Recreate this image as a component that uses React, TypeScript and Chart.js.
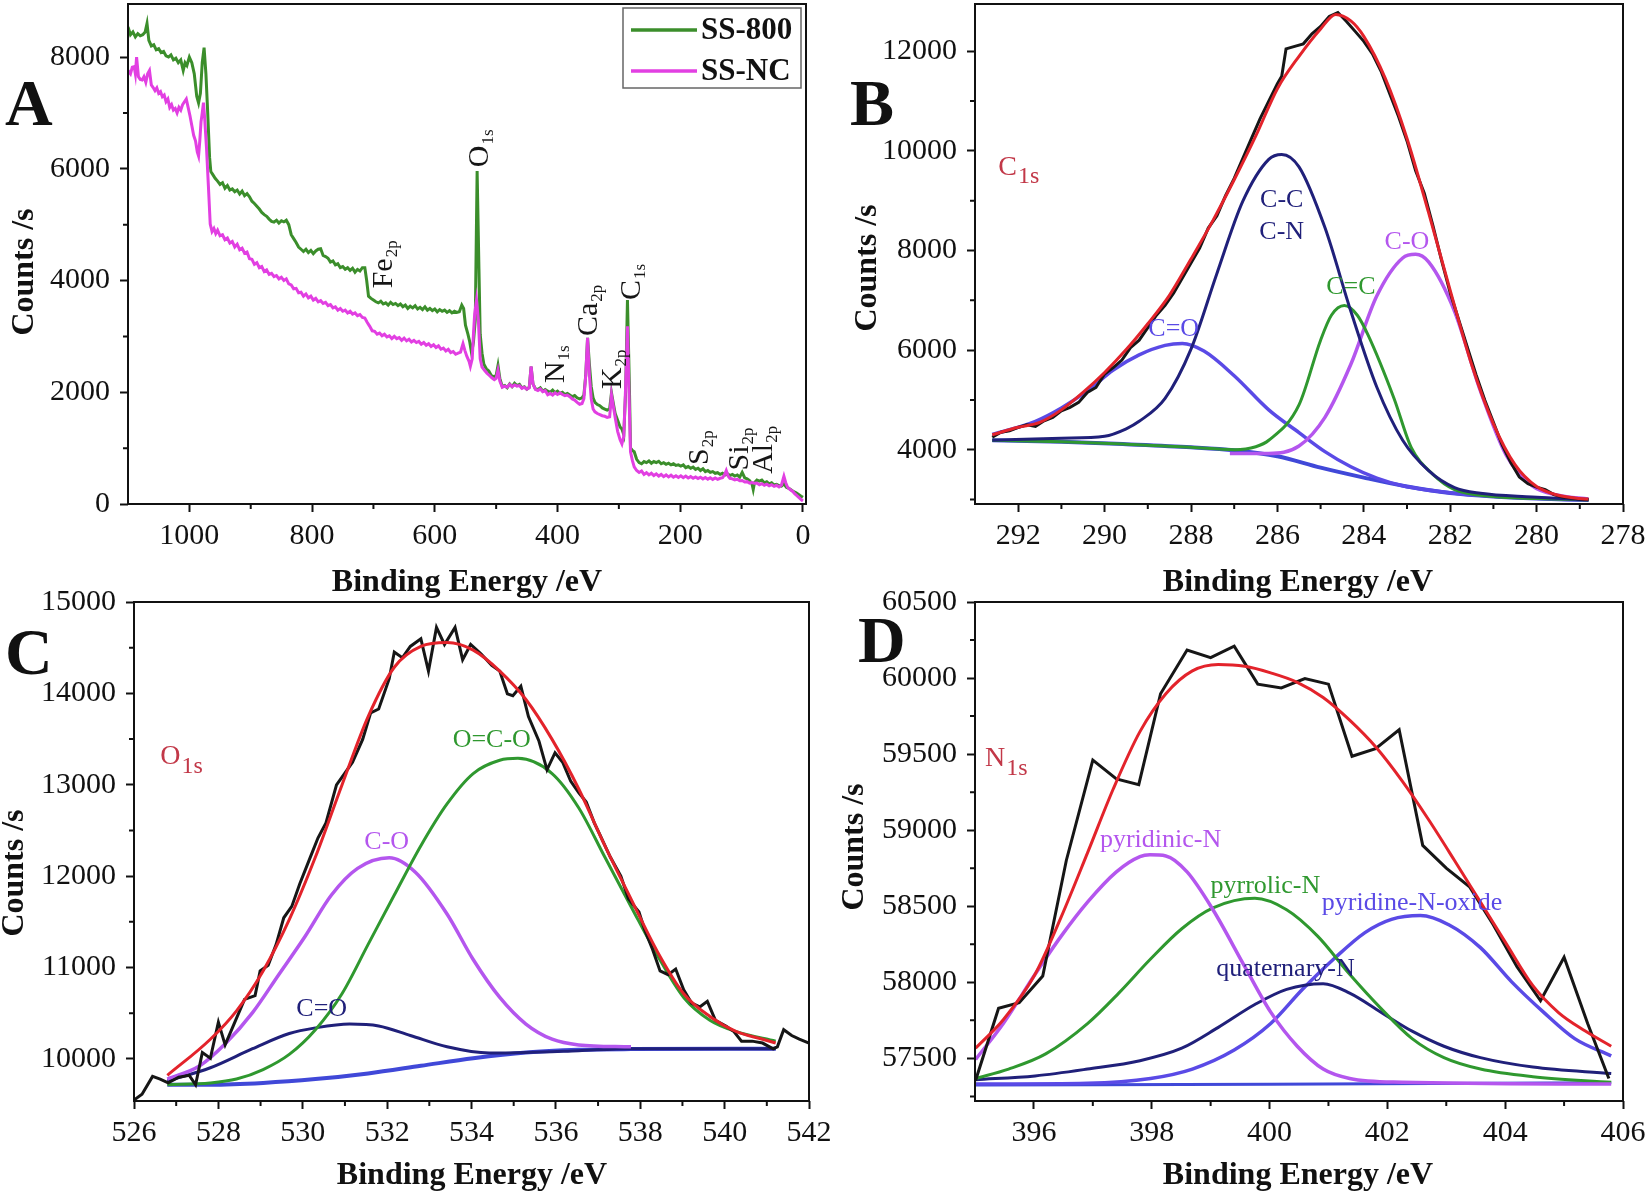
import React, { useEffect, useRef } from 'react';
import { Chart, registerables } from 'chart.js';

Chart.register(...registerables);

const SERIF = '"Liberation Serif", "DejaVu Serif", serif';
const W = 1649;
const H = 1191;

// ---------------- tick values ----------------
const A_XTICKS = [0, 200, 400, 600, 800, 1000];
const A_YTICKS = [0, 2000, 4000, 6000, 8000];
const B_XTICKS = [278, 280, 282, 284, 286, 288, 290, 292];
const B_YTICKS = [4000, 6000, 8000, 10000, 12000];
const C_XTICKS = [526, 528, 530, 532, 534, 536, 538, 540, 542];
const C_YTICKS = [10000, 11000, 12000, 13000, 14000, 15000];
const D_XTICKS = [396, 398, 400, 402, 404, 406];
const D_YTICKS = [57500, 58000, 58500, 59000, 59500, 60000, 60500];

// ---------------- Panel A : survey spectra ----------------
const ss800: number[][] = [
  [1100, 8540], [1096, 8400], [1092, 8450], [1088, 8360], [1084, 8420], [1080, 8380], [1076, 8400], [1072, 8450],
  [1069, 8600], [1066, 8300], [1062, 8200], [1058, 8220], [1054, 8130], [1050, 8150], [1046, 8080], [1042, 8100],
  [1038, 8020], [1034, 8000], [1030, 8040], [1026, 7950], [1022, 7980], [1018, 7900], [1014, 7950], [1010, 7760],
  [1007, 7900], [1004, 7850], [1000, 8000], [996, 7900], [992, 7700], [988, 7300], [985, 7180], [982, 7350],
  [979, 7900], [976, 8170], [973, 7700], [970, 6980], [967, 6200], [965, 5950], [962, 5900], [958, 5830],
  [954, 5780], [950, 5720], [946, 5750], [942, 5650], [938, 5700], [934, 5620], [930, 5640], [926, 5590],
  [922, 5620], [918, 5550], [914, 5600], [910, 5520], [906, 5555], [902, 5500], [898, 5420], [894, 5380],
  [890, 5330], [886, 5280], [882, 5220], [878, 5180], [874, 5150], [870, 5100], [866, 5060], [862, 5045],
  [858, 5080], [854, 5030], [850, 5070], [846, 5050], [842, 5080], [838, 5000], [834, 4820], [830, 4750],
  [826, 4680], [822, 4600], [818, 4560], [814, 4520], [810, 4560], [806, 4500], [802, 4540], [798, 4480],
  [794, 4530], [790, 4560], [786, 4570], [782, 4450], [778, 4430], [774, 4400], [770, 4330], [766, 4350],
  [762, 4280], [758, 4300], [754, 4230], [750, 4250], [746, 4200], [742, 4230], [738, 4180], [734, 4220],
  [730, 4150], [726, 4200], [722, 4170], [718, 4230], [714, 4230], [711, 4000], [708, 3720], [704, 3680],
  [700, 3650], [696, 3620], [692, 3600], [688, 3630], [684, 3580], [680, 3600], [676, 3560], [672, 3610],
  [668, 3570], [664, 3590], [660, 3550], [656, 3580], [652, 3530], [648, 3560], [644, 3500], [640, 3540],
  [636, 3510], [632, 3550], [628, 3490], [624, 3520], [620, 3480], [616, 3530], [612, 3470], [608, 3500],
  [604, 3460], [600, 3490], [596, 3440], [592, 3480], [588, 3450], [584, 3470], [580, 3430], [576, 3460],
  [572, 3420], [568, 3450], [564, 3430], [560, 3440], [556, 3560], [553, 3500], [550, 3200], [546, 3040],
  [543, 2900], [540, 2700], [537, 2900], [534, 3300], [531, 5960], [528, 4200], [526, 3040], [523, 2700],
  [520, 2500], [516, 2420], [512, 2380], [508, 2300], [504, 2280], [500, 2300], [497, 2480], [494, 2250],
  [490, 2100], [486, 2120], [482, 2080], [478, 2150], [474, 2100], [470, 2160], [466, 2120], [462, 2140],
  [458, 2080], [454, 2100], [450, 2055], [446, 2090], [443, 2460], [440, 2150], [436, 2060], [432, 2050],
  [428, 2080], [424, 2020], [420, 2050], [416, 2020], [412, 2000], [408, 2040], [404, 1990], [400, 2020],
  [396, 1980], [392, 2000], [388, 1960], [384, 1980], [380, 1950], [376, 1920], [372, 1940], [368, 1900],
  [364, 1880], [360, 1900], [357, 1950], [354, 2300], [351, 2975], [348, 2500], [345, 2100], [342, 1900],
  [339, 1820], [335, 1780], [331, 1760], [327, 1720], [323, 1700], [319, 1680], [315, 1700], [312, 1990],
  [309, 1800], [306, 1620], [302, 1500], [298, 1380], [295, 1340], [292, 1240], [289, 2000], [286, 3650],
  [283, 2200], [281, 1005], [278, 960], [275, 935], [271, 800], [267, 740], [263, 720], [259, 760],
  [255, 740], [251, 770], [247, 730], [243, 760], [239, 740], [235, 765], [231, 720], [227, 740],
  [223, 710], [219, 730], [215, 700], [211, 720], [207, 690], [203, 700], [199, 680], [195, 700],
  [191, 650], [187, 670], [183, 640], [179, 660], [175, 620], [171, 640], [167, 600], [163, 630],
  [159, 580], [155, 600], [151, 565], [147, 580], [143, 550], [139, 560], [135, 530], [131, 550],
  [127, 520], [123, 540], [119, 510], [115, 530], [111, 500], [107, 520], [103, 480], [99, 565],
  [95, 470], [91, 450], [87, 420], [83, 360], [81, 260], [79, 380], [75, 430], [71, 410],
  [67, 430], [63, 380], [59, 400], [55, 360], [51, 380], [47, 340], [43, 350], [39, 330],
  [35, 320], [31, 360], [27, 300], [23, 280], [19, 250], [15, 220], [11, 200], [7, 170], [3, 140], [0, 120],
];

const ssNC: number[][] = [
  [1100, 7760], [1096, 7700], [1093, 7820], [1090, 7830], [1088, 7700], [1086, 8000], [1083, 7650], [1080, 7600],
  [1077, 7590], [1074, 7650], [1071, 7550], [1068, 7700], [1065, 7760], [1062, 7500], [1059, 7455], [1056, 7400],
  [1053, 7450], [1050, 7350], [1047, 7380], [1044, 7290], [1041, 7320], [1038, 7200], [1035, 7250], [1032, 7100],
  [1029, 7150], [1026, 7050], [1023, 7080], [1020, 7000], [1017, 7100], [1014, 7050], [1011, 7150], [1008, 7200],
  [1005, 7250], [1002, 7100], [999, 6950], [996, 6775], [993, 6600], [990, 6500], [987, 6300], [985, 6230],
  [983, 6500], [981, 6840], [979, 7000], [977, 7185], [975, 6900], [972, 6365], [969, 5700], [966, 5010],
  [963, 4875], [960, 4930], [957, 4840], [954, 4900], [950, 4800], [946, 4820], [942, 4730], [938, 4760],
  [934, 4670], [930, 4700], [926, 4600], [922, 4650], [918, 4550], [914, 4580], [910, 4490], [906, 4510],
  [902, 4390], [898, 4380], [894, 4290], [890, 4320], [886, 4230], [882, 4250], [878, 4160], [874, 4190],
  [870, 4110], [866, 4130], [862, 4070], [858, 4090], [854, 4030], [850, 4060], [846, 4000], [842, 4030],
  [838, 3940], [834, 3920], [830, 3850], [826, 3860], [822, 3780], [818, 3790], [814, 3720], [810, 3760],
  [806, 3690], [802, 3720], [798, 3650], [794, 3680], [790, 3620], [786, 3640], [782, 3590], [778, 3610],
  [774, 3550], [770, 3570], [766, 3510], [762, 3530], [758, 3470], [754, 3500], [750, 3450], [746, 3470],
  [742, 3420], [738, 3450], [734, 3400], [730, 3420], [726, 3370], [722, 3390], [718, 3340], [714, 3330],
  [710, 3250], [706, 3180], [702, 3100], [698, 3090], [694, 3040], [690, 3060], [686, 3010], [682, 3040],
  [678, 2990], [674, 3010], [670, 2960], [666, 3000], [662, 2960], [658, 2980], [654, 2930], [650, 2970],
  [646, 2920], [642, 2950], [638, 2900], [634, 2930], [630, 2890], [626, 2910], [622, 2860], [618, 2890],
  [614, 2840], [610, 2870], [606, 2820], [602, 2850], [598, 2800], [594, 2830], [590, 2770], [586, 2790],
  [582, 2740], [578, 2770], [574, 2710], [570, 2730], [566, 2680], [562, 2700], [558, 2720], [554, 2870],
  [551, 2750], [548, 2650], [544, 2550], [542, 2465], [539, 2600], [537, 3040], [535, 3400], [532, 3650],
  [529, 3300], [526, 2600], [523, 2450], [519, 2395], [515, 2340], [511, 2300], [507, 2260], [503, 2225],
  [500, 2250], [497, 2395], [494, 2200], [490, 2090], [486, 2110], [482, 2090], [478, 2140], [474, 2100],
  [470, 2130], [466, 2110], [462, 2120], [458, 2070], [454, 2090], [450, 2055], [446, 2080], [443, 2465],
  [440, 2150], [436, 2050], [432, 2030], [428, 2060], [424, 2010], [420, 2030], [416, 1955], [412, 1980],
  [408, 1950], [404, 1990], [400, 1960], [396, 1990], [392, 1960], [388, 1940], [384, 1950], [380, 1920],
  [376, 1880], [372, 1860], [368, 1820], [364, 1785], [360, 1800], [357, 1885], [354, 2300], [351, 2975],
  [348, 2300], [345, 1880], [342, 1700], [339, 1650], [335, 1620], [331, 1600], [327, 1580], [323, 1570],
  [319, 1550], [315, 1560], [312, 1955], [309, 1750], [306, 1550], [302, 1300], [298, 1150], [295, 1075],
  [292, 1210], [289, 2100], [286, 3180], [283, 1800], [281, 935], [278, 780], [275, 665], [271, 600],
  [267, 565], [263, 590], [259, 530], [255, 560], [251, 520], [247, 550], [243, 510], [239, 540],
  [235, 500], [231, 530], [227, 490], [223, 520], [219, 485], [215, 515], [211, 480], [207, 505],
  [203, 475], [199, 505], [195, 470], [191, 500], [187, 465], [183, 490], [179, 460], [175, 485],
  [171, 455], [167, 480], [163, 450], [159, 475], [155, 445], [151, 470], [147, 440], [143, 465],
  [139, 440], [135, 460], [131, 470], [128, 520], [125, 600], [122, 500], [119, 460], [115, 450],
  [111, 430], [107, 445], [103, 415], [99, 420], [95, 395], [91, 400], [87, 375], [83, 385],
  [79, 370], [75, 375], [71, 345], [67, 365], [63, 335], [59, 355], [55, 325], [51, 345],
  [47, 315], [43, 335], [39, 305], [35, 340], [31, 495], [28, 380], [25, 300], [21, 260],
  [17, 230], [13, 180], [9, 140], [5, 100], [2, 70], [0, 55],
];

// ---------------- Panel B : C1s ----------------
const c1sRaw: number[][] = [
  [292.6, 4250], [292.4, 4350], [292.2, 4380], [292, 4450], [291.8, 4500], [291.6, 4470], [291.4, 4580], [291.2, 4650],
  [291, 4780], [290.8, 4850], [290.6, 4950], [290.4, 5150], [290.2, 5250], [290, 5520], [289.8, 5650], [289.6, 5800],
  [289.4, 6050], [289.2, 6200], [289, 6450], [288.8, 6700], [288.6, 6900], [288.4, 7150], [288.2, 7450], [288, 7750],
  [287.8, 8050], [287.6, 8450], [287.4, 8700], [287.2, 9100], [287, 9450], [286.8, 9850], [286.6, 10250], [286.4, 10650],
  [286.2, 11000], [286, 11350], [285.9, 11500], [285.8, 12050], [285.6, 12100], [285.4, 12150], [285.2, 12350], [285, 12500],
  [284.8, 12700], [284.6, 12780], [284.4, 12600], [284.2, 12400], [284, 12200], [283.8, 11950], [283.6, 11600], [283.4, 11150],
  [283.2, 10700], [283, 10200], [282.8, 9600], [282.6, 9150], [282.4, 8500], [282.2, 7800], [282, 7150], [281.8, 6600],
  [281.6, 6050], [281.4, 5500], [281.2, 5000], [281, 4550], [280.8, 4100], [280.6, 3750], [280.4, 3450], [280.2, 3320],
  [280, 3250], [279.8, 3200], [279.6, 3100], [279.4, 3050], [279.2, 3030], [279, 3010], [278.8, 3000],
];
const c1sFit: number[][] = [
  [292.6, 4300], [292, 4450], [291.5, 4550], [291, 4800], [290.5, 5150], [290, 5550], [289.5, 6010], [289, 6530],
  [288.5, 7100], [288, 7830], [287.5, 8590], [287, 9420], [286.5, 10300], [286, 11250], [285.5, 11900], [285, 12450],
  [284.65, 12740], [284.3, 12610], [284, 12300], [283.5, 11450], [283, 10250], [282.5, 8760], [282, 7200], [281.5, 5700],
  [281, 4520], [280.5, 3700], [280, 3260], [279.5, 3085], [279, 3020], [278.8, 3010],
];
const c1sCC: number[][] = [
  [292.6, 4190], [291, 4230], [290, 4270], [289.5, 4420], [289.2, 4570], [288.6, 5030], [288, 6020], [287.4, 7540],
  [286.8, 8990], [286.2, 9830], [285.9, 9930], [285.5, 9680], [284.9, 8460], [284.3, 6780], [283.7, 5260], [283.1, 4190],
  [282.5, 3580], [281.9, 3240], [281.3, 3125], [280.1, 3050], [278.8, 2990],
];
const c1sCdC: number[][] = [
  [292.6, 4190], [291, 4160], [289.5, 4110], [288, 4050], [287, 4000], [286.5, 4060], [286.2, 4190], [285.5, 4900],
  [285, 6200], [284.75, 6700], [284.45, 6895], [284.15, 6700], [283.9, 6300], [283.3, 5030], [282.9, 4040], [282.4, 3505],
  [281.9, 3200], [281, 3060], [280, 3020], [278.8, 2990],
];
const c1sCO: number[][] = [
  [287.1, 3925], [286.2, 3925], [285.5, 4075], [284.9, 4650], [284.3, 5715], [283.7, 7085], [283.1, 7850], [282.8, 7924],
  [282.5, 7770], [281.9, 6780], [281.3, 5180], [280.7, 3885], [280.1, 3275], [279.5, 3085], [278.8, 3010],
];
const c1sCdO: number[][] = [
  [292.6, 4305], [291.6, 4571], [291, 4838], [290.4, 5180], [289.8, 5600], [289.2, 5905], [288.6, 6095], [288.2, 6133],
  [287.7, 5980], [287, 5486], [286.2, 4800], [285.5, 4343], [284.9, 3962], [284.3, 3657], [283.7, 3430], [283.1, 3276],
  [281.9, 3125], [280.7, 3050], [278.8, 2990],
];
const c1sBg: number[][] = [
  [292.6, 4190], [291, 4160], [289.5, 4110], [288, 4050], [287, 3990], [286, 3870], [285, 3640], [284, 3440],
  [283, 3260], [282, 3130], [281, 3060], [280, 3020], [279, 2995], [278.8, 2990],
];

// ---------------- Panel C : O1s ----------------
const o1sRaw: number[][] = [
  [526.0, 9551], [526.19, 9614], [526.44, 9809], [526.62, 9780], [526.81, 9738], [527.06, 9800], [527.31, 9821], [527.46, 9718],
  [527.62, 10070], [527.81, 10008], [528.0, 10403], [528.16, 10154], [528.37, 10382], [528.62, 10652], [528.87, 10693], [528.99, 10963],
  [529.18, 11025], [529.37, 11254], [529.55, 11545], [529.74, 11669], [529.93, 11918], [530.18, 12209], [530.36, 12417], [530.55, 12583],
  [530.8, 12998], [530.99, 13123], [531.18, 13247], [531.42, 13497], [531.61, 13787], [531.8, 13829], [532.05, 14161], [532.17, 14452],
  [532.36, 14390], [532.55, 14514], [532.8, 14597], [532.98, 14244], [533.17, 14722], [533.36, 14535], [533.61, 14722], [533.79, 14369],
  [533.98, 14535], [534.23, 14431], [534.48, 14306], [534.67, 14244], [534.85, 13995], [534.98, 13974], [535.17, 14078], [535.35, 13746],
  [535.6, 13476], [535.79, 13164], [535.98, 13351], [536.16, 13247], [536.35, 13040], [536.54, 12915], [536.72, 12811], [536.91, 12583],
  [537.04, 12458], [537.29, 12209], [537.54, 12002], [537.72, 11752], [537.97, 11607], [538.1, 11420], [538.28, 11213], [538.47, 10963],
  [538.66, 10922], [538.84, 10984], [539.03, 10756], [539.22, 10610], [539.41, 10569], [539.59, 10631], [539.78, 10424], [540.03, 10361],
  [540.22, 10299], [540.4, 10195], [540.65, 10195], [540.9, 10174], [541.15, 10112], [541.25, 10133], [541.4, 10320], [541.59, 10257],
  [541.77, 10216], [542.0, 10174],
];
const o1sFit: number[][] = [
  [526.79, 9821], [527.81, 10216], [528.43, 10527], [529.06, 10963], [529.68, 11524], [530.3, 12209], [530.93, 12998], [531.55, 13746],
  [532.17, 14286], [532.8, 14514], [533.42, 14556], [534.04, 14473], [534.67, 14244], [535.29, 13933], [535.91, 13497], [536.54, 12957],
  [537.16, 12334], [537.78, 11752], [538.41, 11171], [539.03, 10714], [539.65, 10465], [540.28, 10299], [540.9, 10216], [541.21, 10174],
];
const o1sOCO: number[][] = [
  [526.79, 9718], [527.81, 9738], [528.43, 9780], [529.06, 9884], [529.68, 10050], [530.3, 10320], [530.93, 10714], [531.55, 11254],
  [532.17, 11794], [532.8, 12334], [533.42, 12791], [534.04, 13123], [534.67, 13268], [535.1, 13289], [535.91, 13123], [536.54, 12749],
  [537.16, 12209], [537.78, 11669], [538.41, 11130], [539.03, 10673], [539.65, 10424], [540.28, 10299], [541.21, 10195],
];
const o1sCO: number[][] = [
  [526.79, 9780], [527.56, 9925], [528.18, 10174], [528.81, 10507], [529.43, 10922], [530.05, 11337], [530.68, 11794], [531.3, 12085],
  [532.05, 12201], [532.67, 12043], [533.42, 11586], [534.04, 11088], [534.67, 10673], [535.29, 10382], [535.91, 10216], [536.54, 10154],
  [537.78, 10133],
];
const o1sCdO: number[][] = [
  [526.79, 9759], [527.81, 9904], [528.81, 10112], [529.68, 10278], [530.3, 10340], [531.11, 10382], [531.8, 10361], [532.55, 10257],
  [533.42, 10133], [534.42, 10065], [535.29, 10071], [536.54, 10091], [537.78, 10112], [541.21, 10112],
];
const o1sBg: number[][] = [
  [526.79, 9718], [527.81, 9718], [529.06, 9738], [530.3, 9780], [531.55, 9842], [532.8, 9925], [534.04, 10008], [535.29, 10071],
  [536.54, 10100], [537.78, 10108], [541.21, 10112],
];

// ---------------- Panel D : N1s ----------------
const n1sRaw: number[][] = [
  [395.01, 57355], [395.4, 57829], [395.75, 57866], [396.15, 58041], [396.55, 58801], [397.0, 59461], [397.4, 59337], [397.78, 59299],
  [398.15, 59897], [398.6, 60184], [399.0, 60134], [399.4, 60209], [399.8, 59960], [400.2, 59935], [400.6, 59997], [401.0, 59960],
  [401.4, 59486], [401.8, 59536], [402.2, 59660], [402.6, 58900], [403.0, 58751], [403.4, 58626], [403.8, 58377], [404.2, 58103],
  [404.6, 57879], [405.0, 58165], [405.4, 57729], [405.76, 57368],
];
const n1sFit: number[][] = [
  [395.01, 57567], [395.48, 57754], [396.02, 58053], [396.46, 58427], [396.91, 58851], [397.35, 59274], [397.8, 59648], [398.24, 59897],
  [398.69, 60047], [399.13, 60089], [399.58, 60077], [400.02, 60034], [400.47, 59972], [400.91, 59872], [401.36, 59723], [401.8, 59548],
  [402.25, 59324], [402.69, 59075], [403.14, 58801], [403.58, 58527], [404.02, 58253], [404.47, 57978], [404.91, 57800], [405.36, 57680],
  [405.8, 57580],
];
const n1sPyridinic: number[][] = [
  [395.01, 57493], [395.48, 57729], [396.02, 58053], [396.46, 58302], [396.91, 58527], [397.4, 58726], [397.8, 58826], [397.97, 58838],
  [398.24, 58831], [398.6, 58726], [399.04, 58477], [399.58, 58103], [400.02, 57804], [400.47, 57580], [400.91, 57430], [401.36, 57368],
  [402.25, 57343], [405.8, 57331],
];
const n1sPyrrolic: number[][] = [
  [395.01, 57368], [395.57, 57430], [396.2, 57530], [396.91, 57729], [397.44, 57929], [397.98, 58153], [398.51, 58352], [399.04, 58489],
  [399.75, 58552], [400.29, 58477], [400.82, 58302], [401.36, 58053], [401.89, 57829], [402.42, 57630], [402.96, 57505], [403.58, 57430],
  [404.47, 57380], [405.8, 57343],
];
const n1sQuaternary: number[][] = [
  [395.01, 57360], [396.02, 57385], [396.91, 57430], [397.8, 57485], [398.51, 57567], [399.13, 57704], [399.75, 57854], [400.29, 57954],
  [400.91, 57991], [401.36, 57929], [401.89, 57804], [402.42, 57679], [402.96, 57580], [403.58, 57505], [404.47, 57443], [405.8, 57400],
];
const n1sOxide: number[][] = [
  [395.01, 57331], [396.91, 57336], [397.98, 57368], [398.69, 57430], [399.4, 57555], [400.02, 57729], [400.56, 57954], [401.09, 58153],
  [401.62, 58327], [402.07, 58414], [402.56, 58439], [403.05, 58377], [403.58, 58228], [404.11, 58003], [404.65, 57804], [405.18, 57630],
  [405.8, 57517],
];
const n1sBg: number[][] = [[395.01, 57325], [400.0, 57330], [405.8, 57340]];

// ---------------- colours ----------------
const C_GREEN_A = '#3b8e2b';
const C_MAGENTA = '#e23fe2';
const C_RED = '#e3232b';
const C_BLACK = '#161616';
const C_NAVY = '#20207a';
const C_GREEN = '#2f982f';
const C_VIOLET = '#b456ee';
const C_BLUEV = '#5a4ae6';
const C_BG = '#4048d8';
const C_LABELRED = '#c23848';

const ds = (pts: number[][], color: string, width: number, smooth: boolean) => ({
  data: pts.map((p) => ({ x: p[0], y: p[1] })),
  borderColor: color,
  backgroundColor: color,
  borderWidth: width,
  pointRadius: 0,
  fill: false,
  tension: 0,
  cubicInterpolationMode: smooth ? 'monotone' : 'default',
});

type Lbl = {
  text: string; sub?: string; x: number; y: number; color: string; size: number;
  subSize?: number; subDy?: number; center?: boolean; rotate?: boolean;
};

const A_LABELS: Lbl[] = [
  { text: 'Fe', sub: '2p', x: 669, y: 3860 },
  { text: 'O', sub: '1s', x: 514, y: 6030 },
  { text: 'N', sub: '1s', x: 390, y: 2164 },
  { text: 'Ca', sub: '2p', x: 335, y: 3005 },
  { text: 'K', sub: '2p', x: 296, y: 2057 },
  { text: 'C', sub: '1s', x: 266, y: 3650 },
  { text: 'S', sub: '2p', x: 154, y: 700 },
  { text: 'Si', sub: '2p', x: 90, y: 600 },
  { text: 'Al', sub: '2p', x: 51, y: 540 },
].map((l) => ({ ...l, color: C_BLACK, size: 30, subSize: 17, subDy: 5, rotate: true }));

const B_LABELS: Lbl[] = [
  { text: 'C', sub: '1s', x: 292.46, y: 9524, color: C_LABELRED, size: 28, subSize: 24, subDy: 8 },
  { text: 'C-C', x: 285.9, y: 8876, color: C_NAVY, size: 26, center: true },
  { text: 'C-N', x: 285.9, y: 8229, color: C_NAVY, size: 26, center: true },
  { text: 'C=C', x: 284.3, y: 7124, color: C_GREEN, size: 26, center: true },
  { text: 'C-O', x: 283.0, y: 8038, color: C_VIOLET, size: 26, center: true },
  { text: 'C=O', x: 288.4, y: 6286, color: C_BLUEV, size: 26, center: true },
];
const C_LABELS: Lbl[] = [
  { text: 'O', sub: '1s', x: 526.62, y: 13227, color: C_LABELRED, size: 28, subSize: 24, subDy: 9 },
  { text: 'O=C-O', x: 534.48, y: 13414, color: C_GREEN, size: 26, center: true },
  { text: 'C-O', x: 531.99, y: 12292, color: C_VIOLET, size: 26, center: true },
  { text: 'C=O', x: 530.45, y: 10465, color: C_NAVY, size: 26, center: true },
];
const D_LABELS: Lbl[] = [
  { text: 'N', sub: '1s', x: 395.17, y: 59424, color: C_LABELRED, size: 28, subSize: 24, subDy: 9 },
  { text: 'pyridinic-N', x: 398.15, y: 58888, color: C_VIOLET, size: 26, center: true },
  { text: 'pyrrolic-N', x: 399.93, y: 58589, color: C_GREEN, size: 26, center: true },
  { text: 'pyridine-N-oxide', x: 402.42, y: 58477, color: C_BLUEV, size: 26, center: true },
  { text: 'quaternary-N', x: 400.27, y: 58041, color: C_NAVY, size: 26, center: true },
];

type PanelDef = {
  key: string;
  datasets: any[];
  x: { min: number; max: number; ticks: number[]; minor: number; reverse: boolean };
  y: { min: number; max: number; ticks: number[]; minor: number };
  padding: { left: number; top: number; right: number; bottom: number };
  letter: { text: string; x: number; y: number };
  xTitle: { x: number; y: number };
  yTitle: { x: number; y: number };
  labels: Lbl[];
  legend?: boolean;
};

const Y_AXIS_W = 100;
const X_AXIS_H = 60;

const PANELS: PanelDef[] = [
  {
    key: 'A',
    datasets: [ds(ssNC, C_MAGENTA, 3, false), ds(ss800, C_GREEN_A, 3, false)],
    x: { min: -5, max: 1100, ticks: A_XTICKS, minor: 100, reverse: true },
    y: { min: 0, max: 8950, ticks: A_YTICKS, minor: 1000 },
    padding: { left: 128 - Y_AXIS_W, top: 4, right: W - 806, bottom: H - 504 - X_AXIS_H },
    letter: { text: 'A', x: 5, y: 125 },
    xTitle: { x: 467, y: 591 },
    yTitle: { x: 33, y: 272 },
    labels: A_LABELS,
    legend: true,
  },
  {
    key: 'B',
    datasets: [
      ds(c1sFit, C_RED, 3, true), ds(c1sRaw, C_BLACK, 3, false), ds(c1sCC, C_NAVY, 3, true),
      ds(c1sCdC, C_GREEN, 3, true), ds(c1sCO, C_VIOLET, 3.5, true), ds(c1sCdO, C_BLUEV, 3.5, true),
      ds(c1sBg, C_BG, 4, true),
    ],
    x: { min: 278, max: 293, ticks: B_XTICKS, minor: 1, reverse: true },
    y: { min: 2910, max: 12950, ticks: B_YTICKS, minor: 1000 },
    padding: { left: 975 - Y_AXIS_W, top: 4, right: W - 1623, bottom: H - 504 - X_AXIS_H },
    letter: { text: 'B', x: 850, y: 125 },
    xTitle: { x: 1298, y: 591 },
    yTitle: { x: 876, y: 268 },
    labels: B_LABELS,
  },
  {
    key: 'C',
    datasets: [
      ds(o1sFit, C_RED, 3, true), ds(o1sRaw, C_BLACK, 3, false), ds(o1sOCO, C_GREEN, 3, true),
      ds(o1sCO, C_VIOLET, 3.5, true), ds(o1sCdO, C_NAVY, 3, true), ds(o1sBg, C_BG, 4, true),
    ],
    x: { min: 526, max: 542, ticks: C_XTICKS, minor: 1, reverse: false },
    y: { min: 9540, max: 15000, ticks: C_YTICKS, minor: 500 },
    padding: { left: 134 - Y_AXIS_W, top: 602, right: W - 809, bottom: H - 1101 - X_AXIS_H },
    letter: { text: 'C', x: 5, y: 674 },
    xTitle: { x: 472, y: 1184 },
    yTitle: { x: 23, y: 873 },
    labels: C_LABELS,
  },
  {
    key: 'D',
    datasets: [
      ds(n1sFit, C_RED, 3, true), ds(n1sRaw, C_BLACK, 3, false), ds(n1sPyridinic, C_VIOLET, 3.5, true),
      ds(n1sPyrrolic, C_GREEN, 3, true), ds(n1sQuaternary, C_NAVY, 3, true), ds(n1sOxide, C_BLUEV, 3.5, true),
      ds(n1sBg, C_BG, 3, true),
    ],
    x: { min: 395, max: 406, ticks: D_XTICKS, minor: 1, reverse: false },
    y: { min: 57220, max: 60500, ticks: D_YTICKS, minor: 250 },
    padding: { left: 975 - Y_AXIS_W, top: 602, right: W - 1623, bottom: H - 1101 - X_AXIS_H },
    letter: { text: 'D', x: 858, y: 662 },
    xTitle: { x: 1298, y: 1184 },
    yTitle: { x: 863, y: 847 },
    labels: D_LABELS,
  },
];

function drawLabel(ctx: CanvasRenderingContext2D, chart: any, l: Lbl) {
  const px = chart.scales.x.getPixelForValue(l.x);
  const py = chart.scales.y.getPixelForValue(l.y);
  ctx.save();
  ctx.translate(px, py);
  if (l.rotate) ctx.rotate(-Math.PI / 2);
  ctx.fillStyle = l.color;
  ctx.textBaseline = 'alphabetic';
  ctx.textAlign = 'left';
  const mainFont = `${l.size}px ${SERIF}`;
  const subFont = `${l.subSize || 16}px ${SERIF}`;
  ctx.font = mainFont;
  const mw = ctx.measureText(l.text).width;
  let sw = 0;
  if (l.sub) {
    ctx.font = subFont;
    sw = ctx.measureText(l.sub).width;
  }
  const x0 = l.center ? -(mw + sw) / 2 : 0;
  ctx.font = mainFont;
  ctx.fillText(l.text, x0, 0);
  if (l.sub) {
    ctx.font = subFont;
    ctx.fillText(l.sub, x0 + mw + 1, l.subDy || 0);
  }
  ctx.restore();
}

function makeDecor(p: PanelDef) {
  return {
    id: 'decor' + p.key,
    afterDraw(chart: any) {
      const ctx: CanvasRenderingContext2D = chart.ctx;
      const ca = chart.chartArea;
      const xs = chart.scales.x;
      const ys = chart.scales.y;
      ctx.save();
      // frame
      ctx.strokeStyle = '#111';
      ctx.lineWidth = 2;
      ctx.strokeRect(ca.left, ca.top, ca.right - ca.left, ca.bottom - ca.top);
      // minor ticks (between the major tick values)
      ctx.lineWidth = 2;
      ctx.beginPath();
      const isMajor = (v: number, list: number[]) => list.some((t) => Math.abs(t - v) < 1e-6);
      const xi0 = Math.ceil(p.x.min / p.x.minor + 1e-9);
      const xi1 = Math.floor(p.x.max / p.x.minor - 1e-9);
      for (let i = xi0; i <= xi1; i++) {
        const v = i * p.x.minor;
        if (isMajor(v, p.x.ticks)) continue;
        const px = xs.getPixelForValue(v);
        ctx.moveTo(px, ca.bottom);
        ctx.lineTo(px, ca.bottom + 5);
      }
      const yi0 = Math.ceil(p.y.min / p.y.minor + 1e-9);
      const yi1 = Math.floor(p.y.max / p.y.minor - 1e-9);
      for (let i = yi0; i <= yi1; i++) {
        const v = i * p.y.minor;
        if (isMajor(v, p.y.ticks)) continue;
        const py = ys.getPixelForValue(v);
        ctx.moveTo(ca.left, py);
        ctx.lineTo(ca.left - 5, py);
      }
      ctx.stroke();

      // titles
      ctx.fillStyle = '#111';
      ctx.font = `bold 32px ${SERIF}`;
      ctx.textAlign = 'center';
      ctx.textBaseline = 'alphabetic';
      ctx.fillText('Binding Energy /eV', p.xTitle.x, p.xTitle.y);
      ctx.save();
      ctx.translate(p.yTitle.x, p.yTitle.y);
      ctx.rotate(-Math.PI / 2);
      ctx.fillText('Counts /s', 0, 0);
      ctx.restore();

      // panel letter
      ctx.font = `bold 66px ${SERIF}`;
      ctx.textAlign = 'left';
      ctx.fillText(p.letter.text, p.letter.x, p.letter.y);

      // labels
      p.labels.forEach((l) => drawLabel(ctx, chart, l));

      // legend (panel A)
      if (p.legend) {
        ctx.fillStyle = '#fff';
        ctx.fillRect(623, 8, 178, 80);
        ctx.strokeStyle = '#666';
        ctx.lineWidth = 1.5;
        ctx.strokeRect(623, 8, 178, 80);
        const items = [
          { label: 'SS-800', color: C_GREEN_A, y: 30 },
          { label: 'SS-NC', color: C_MAGENTA, y: 71 },
        ];
        items.forEach((it) => {
          ctx.strokeStyle = it.color;
          ctx.lineWidth = 3.5;
          ctx.beginPath();
          ctx.moveTo(631, it.y);
          ctx.lineTo(697, it.y);
          ctx.stroke();
          ctx.fillStyle = '#111';
          ctx.font = `bold 31px ${SERIF}`;
          ctx.textAlign = 'left';
          ctx.textBaseline = 'middle';
          ctx.fillText(it.label, 701, it.y + 1);
        });
      }
      ctx.restore();
    },
  };
}

function axisCfg(a: any, horizontal: boolean) {
  return {
    type: 'linear',
    min: a.min,
    max: a.max,
    reverse: !!a.reverse,
    afterBuildTicks: (s: any) => {
      s.ticks = a.ticks.map((v: number) => ({ value: v }));
    },
    afterFit: (s: any) => {
      if (horizontal) s.height = X_AXIS_H;
      else s.width = Y_AXIS_W;
      s.paddingLeft = 0;
      s.paddingRight = 0;
      s.paddingTop = 0;
      s.paddingBottom = 0;
    },
    ticks: {
      autoSkip: false,
      maxRotation: 0,
      minRotation: 0,
      padding: horizontal ? 6 : 10,
      color: '#111',
      font: { family: SERIF, size: 30 },
      callback: (v: any) => String(v),
    },
    grid: {
      display: true,
      drawOnChartArea: false,
      drawTicks: true,
      tickLength: 8,
      tickWidth: 2,
      tickColor: '#111',
      color: '#111',
    },
    border: { display: false },
    title: { display: false },
  };
}

function makeConfig(p: PanelDef): any {
  return {
    type: 'line',
    data: { datasets: p.datasets },
    options: {
      animation: false,
      responsive: false,
      maintainAspectRatio: false,
      events: [],
      layout: { padding: p.padding },
      plugins: { legend: { display: false }, tooltip: { enabled: false } },
      scales: { x: axisCfg(p.x, true), y: axisCfg(p.y, false) },
    },
    plugins: [makeDecor(p)],
  };
}

export default function App() {
  const r0 = useRef<HTMLCanvasElement>(null);
  const r1 = useRef<HTMLCanvasElement>(null);
  const r2 = useRef<HTMLCanvasElement>(null);
  const r3 = useRef<HTMLCanvasElement>(null);
  const refs = [r0, r1, r2, r3];

  useEffect(() => {
    const charts = PANELS.map((p, i) => new Chart(refs[i].current as HTMLCanvasElement, makeConfig(p)));
    return () => charts.forEach((c) => c.destroy());
  }, []);

  return (
    <div style={{ position: 'absolute', left: 0, top: 0, width: W, height: H, background: '#fff', overflow: 'hidden' }}>
      {refs.map((r, i) => (
        <canvas
          key={i}
          ref={r}
          width={W}
          height={H}
          style={{ position: 'absolute', left: 0, top: 0, width: W, height: H }}
        />
      ))}
    </div>
  );
}
